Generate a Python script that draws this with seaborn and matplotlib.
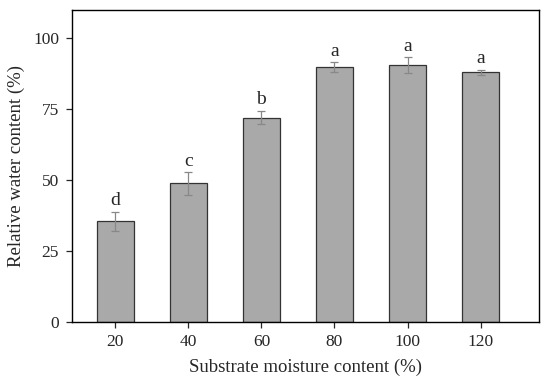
import matplotlib.pyplot as plt
import seaborn as sns
import pandas as pd

# 数据：基质含水量 vs 相对含水量
moisture = [20, 40, 60, 80, 100, 120]
rwc_mean = [35.4, 48.9, 72.0, 89.8, 90.4, 88.0]
rwc_err = [3.5, 4.0, 2.4, 1.7, 2.8, 0.9]
letters = ['d', 'c', 'b', 'a', 'a', 'a']

sns.set_style('ticks')
plt.rcParams['font.family'] = ['Liberation Serif', 'DejaVu Serif']

df = pd.DataFrame({'moisture': moisture, 'rwc': rwc_mean})

fig, ax = plt.subplots(figsize=(5.5, 3.87), dpi=100)
sns.barplot(data=df, x='moisture', y='rwc', native_scale=True, width=0.5,
            color='#a9a9a9', saturation=1, edgecolor='#333333', linewidth=0.9,
            errorbar=None, ax=ax)
ax.errorbar(moisture, rwc_mean, yerr=rwc_err, fmt='none', ecolor='#888888',
            elinewidth=0.9, capsize=3, capthick=0.9)

# 显著性字母
for x, m, e, lab in zip(moisture, rwc_mean, rwc_err, letters):
    ax.text(x, m + e + 0.8, lab, ha='center', va='bottom', fontsize=14)

ax.set_xlim(8, 136)
ax.set_ylim(0, 110)
ax.set_xticks(moisture)
ax.set_yticks([0, 25, 50, 75, 100])
ax.set_xlabel('Substrate moisture content (%)', fontsize=13.5, labelpad=6)
ax.set_ylabel('Relative water content (%)', fontsize=13.5, labelpad=6)
ax.tick_params(axis='both', labelsize=12.5, direction='out', length=4, width=0.9, pad=5)
for s in ax.spines.values():
    s.set_linewidth(1.0)
    s.set_color('black')

plt.subplots_adjust(left=0.13, right=0.98, top=0.975, bottom=0.168)
plt.savefig('out.png', dpi=100)
plt.close()
